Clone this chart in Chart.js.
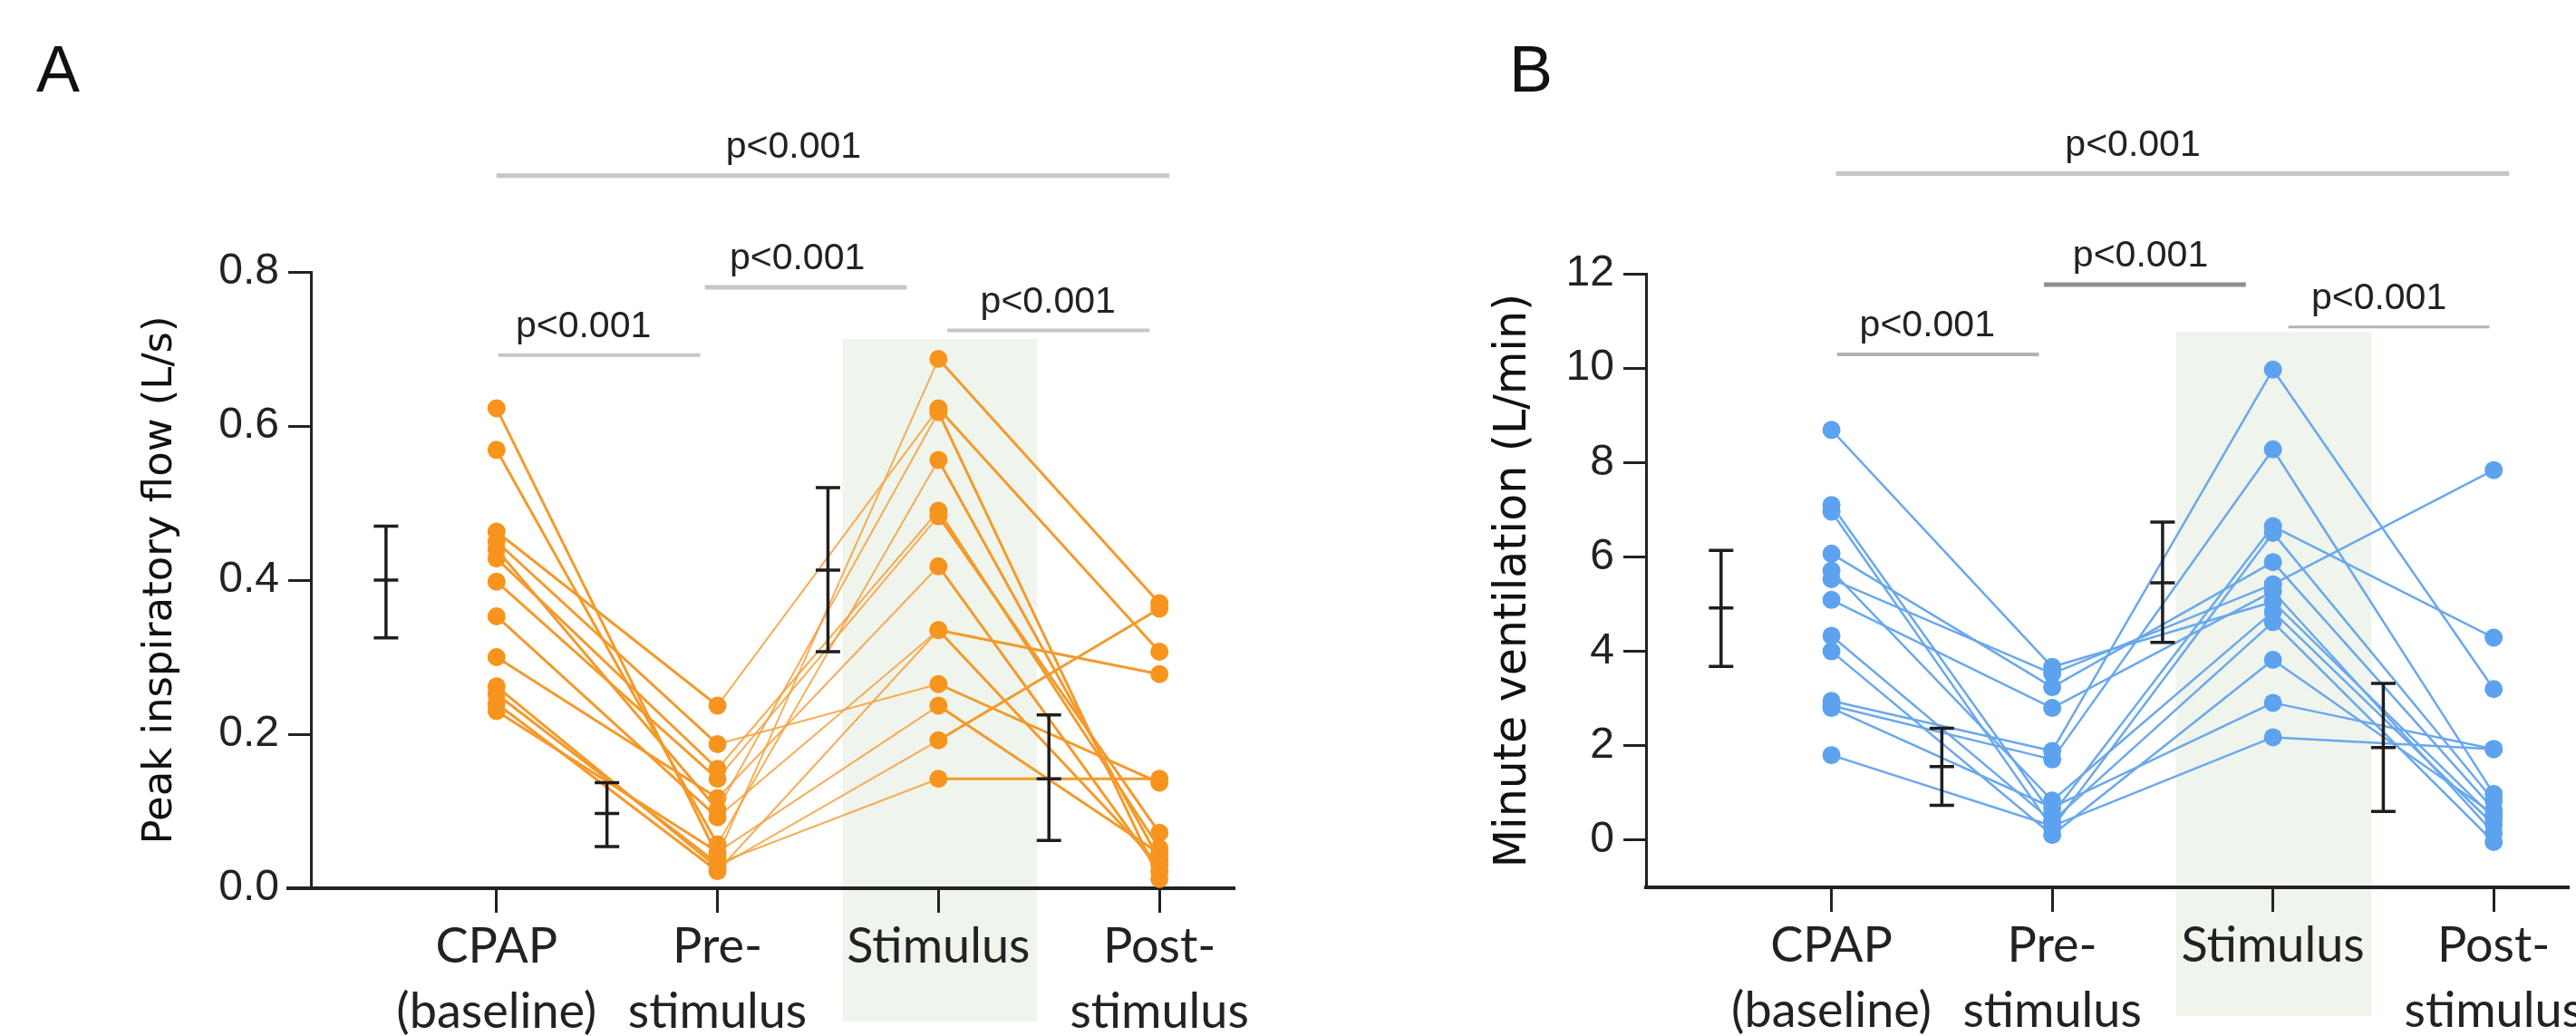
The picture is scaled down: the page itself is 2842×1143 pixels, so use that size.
<!DOCTYPE html>
<html>
<head>
<meta charset="utf-8">
<script src="https://cdn.jsdelivr.net/npm/chart.js@4.4.1/dist/chart.umd.min.js"></script>
<style>
html,body{margin:0;padding:0;background:#fff;overflow:hidden;width:2842px;height:1143px;position:relative;}
#wrapA{position:absolute;left:0;top:0;width:1421px;height:1143px;}
#wrapB{position:absolute;left:1421px;top:0;width:1520px;height:1143px;}
canvas{display:block;}
</style>
</head>
<body>
<div id="wrapA"><canvas id="chartA" width="1421" height="1143"></canvas></div>
<div id="wrapB"><canvas id="chartB" width="1520" height="1143"></canvas></div>
<script>
// ---------- shared ----------
const categories = [["CPAP", "(baseline)"], ["Pre-", "stimulus"], ["Stimulus"], ["Post-", "stimulus"]];
const conditionX = [0, 1, 2, 3];
const errorBarX = [-0.5, 0.5, 1.5, 2.5];
const pLabel = "p<0.001";

// ---------- Panel A: Peak inspiratory flow (L/s) ----------
const flowCPAP = [0.623, 0.569, 0.463, 0.450, 0.440, 0.428, 0.398, 0.353, 0.300, 0.262, 0.252, 0.240, 0.230];
const flowPre  = [0.042, 0.057, 0.237, 0.187, 0.102, 0.155, 0.142, 0.092, 0.117, 0.027, 0.032, 0.022, 0.047];
const flowStim = [0.687, 0.556, 0.623, 0.265, 0.618, 0.490, 0.483, 0.335, 0.418, 0.192, 0.142, 0.335, 0.237];
const flowPost = [0.370, 0.037, 0.307, 0.137, 0.012, 0.052, 0.072, 0.278, 0.022, 0.363, 0.142, 0.030, 0.045];
const flowMean = [0.400, 0.097, 0.413, 0.142];
const flowLow  = [0.325, 0.054, 0.307, 0.062];
const flowHigh = [0.470, 0.137, 0.520, 0.225];
const flowTicks = [0, 0.2, 0.4, 0.6, 0.8];

// ---------- Panel B: Minute ventilation (L/min) ----------
const ventCPAP = [8.69, 7.10, 6.96, 6.07, 5.71, 5.53, 5.09, 4.33, 4.00, 2.95, 2.85, 2.80, 1.80];
const ventPre  = [3.67, 0.54, 0.26, 3.24, 0.84, 3.53, 2.80, 0.40, 0.11, 1.89, 1.71, 0.69, 0.30];
const ventStim = [5.05, 6.65, 6.51, 5.89, 4.84, 5.42, 5.27, 4.62, 3.82, 9.97, 8.28, 2.91, 2.18];
const ventPost = [0.47, 4.29, 0.84, 0.65, 0.33, 7.84, 0.15, -0.04, 0.55, 3.20, 0.98, 1.93, 1.93];
const ventMean = [4.92, 1.56, 5.45, 1.96];
const ventLow  = [3.68, 0.74, 4.19, 0.61];
const ventHigh = [6.14, 2.37, 6.74, 3.32];
const ventTicks = [0, 2, 4, 6, 8, 10, 12];

Chart.defaults.font.family = 'Lato';
Chart.defaults.color = '#222';

const decoPlugin = {
  id: 'panelDeco',
  beforeDraw(chart, args, o) {
    const {ctx, scales: {x, y}} = chart;
    ctx.save();
    ctx.fillStyle = o.shadeColor;
    const x0 = x.getPixelForValue(o.shadeFrom);
    const x1 = x.getPixelForValue(o.shadeTo);
    const y0 = y.getPixelForValue(o.shadeTop);
    const y1 = chart.height - o.shadeBottomGap;
    ctx.fillRect(x0, y0, x1 - x0, y1 - y0);
    ctx.restore();
  },
  afterDatasetsDraw(chart, args, o) {
    const {ctx, scales: {x, y}} = chart;
    ctx.save();
    ctx.strokeStyle = '#1e1e1e';
    ctx.lineWidth = 3.5;
    const cap = 13.5;
    o.mean.forEach((m, i) => {
      const px = x.getPixelForValue(errorBarX[i]);
      const ph = y.getPixelForValue(o.high[i]);
      const pl = y.getPixelForValue(o.low[i]);
      const pm = y.getPixelForValue(m);
      ctx.beginPath();
      ctx.moveTo(px, ph); ctx.lineTo(px, pl);
      ctx.moveTo(px - cap, ph); ctx.lineTo(px + cap, ph);
      ctx.moveTo(px - cap, pl); ctx.lineTo(px + cap, pl);
      ctx.moveTo(px - cap, pm); ctx.lineTo(px + cap, pm);
      ctx.stroke();
    });
    ctx.restore();
  },
  afterDraw(chart, args, o) {
    const {ctx, chartArea, scales: {x, y}} = chart;
    ctx.save();
    if (o.axisExtend) {
      ctx.strokeStyle = '#222';
      ctx.lineWidth = 4;
      ctx.beginPath();
      ctx.moveTo(chartArea.left - o.axisExtend, chartArea.bottom);
      ctx.lineTo(chartArea.left, chartArea.bottom);
      ctx.stroke();
    }
    o.bars.forEach(b => {
      const py = y.getPixelForValue(b.level);
      ctx.strokeStyle = b.color;
      ctx.lineWidth = b.width;
      ctx.beginPath();
      ctx.moveTo(x.getPixelForValue(b.from), py);
      ctx.lineTo(x.getPixelForValue(b.to), py);
      ctx.stroke();
      ctx.fillStyle = '#222';
      ctx.font = '41px "Liberation Sans", Arial, sans-serif';
      ctx.textAlign = 'center';
      ctx.textBaseline = 'alphabetic';
      ctx.fillText(pLabel, x.getPixelForValue(b.textAt), py - 20);
    });
    ctx.fillStyle = '#111';
    ctx.font = '72px "Liberation Sans", Arial, sans-serif';
    ctx.textAlign = 'left';
    ctx.textBaseline = 'alphabetic';
    ctx.fillText(o.letter, o.letterX, o.letterY);
    ctx.restore();
  }
};

function makeChart(id, cfg) {
  const datasets = cfg.series[0].map((_, s) => ({
    data: conditionX.map((cx, c) => ({x: cx, y: cfg.series[c][s]})),
    showLine: true,
    borderColor: cfg.lineColor,
    borderWidth: cfg.lineWidth,
    backgroundColor: cfg.pointColor,
    pointBackgroundColor: cfg.pointColor,
    pointBorderColor: cfg.pointColor,
    pointBorderWidth: 0,
    pointRadius: 10,
    pointHoverRadius: 10,
    segment: {
      borderColor: ctx => ctx.p0DataIndex === 1 ? cfg.midColor : undefined,
      borderWidth: ctx => ctx.p0DataIndex === 1 ? cfg.midWidth : undefined
    }
  }));
  return new Chart(document.getElementById(id), {
    type: 'scatter',
    data: {datasets},
    options: {
      responsive: false,
      animation: false,
      events: [],
      layout: {padding: {top: cfg.top, right: cfg.right, left: 0, bottom: 0}},
      plugins: {
        legend: {display: false},
        tooltip: {enabled: false},
        panelDeco: cfg.deco
      },
      scales: {
        x: {
          type: 'linear', bounds: 'data', min: -0.84, max: 3.34,
          afterBuildTicks: ax => { ax.ticks = conditionX.map(v => ({value: v})); },
          afterFit: ax => { ax.height = cfg.xHeight; },
          ticks: {
            autoSkip: false, maxRotation: 0, minRotation: 0, padding: 2, color: '#222',
            font: {family: 'Lato', size: 54, lineHeight: 1.33},
            callback: (v, i) => categories[i]
          },
          grid: {display: true, drawOnChartArea: false, drawTicks: true, tickLength: 27, tickWidth: 3, tickColor: '#222'},
          border: {display: true, color: '#222', width: 4}
        },
        y: {
          type: 'linear', bounds: 'data', min: cfg.yMin, max: cfg.yMax,
          afterBuildTicks: ax => { ax.ticks = cfg.ticks.map(v => ({value: v})); },
          afterFit: ax => { ax.width = cfg.yWidth; },
          ticks: {
            padding: 10, color: '#222',
            font: {family: '"Liberation Sans", Arial, sans-serif', size: 48},
            callback: cfg.tickFmt
          },
          grid: {display: true, drawOnChartArea: false, drawTicks: true, tickLength: 25, tickWidth: 3, tickColor: '#222'},
          border: {display: true, color: '#222', width: 3},
          title: {
            display: true, text: cfg.yTitle, color: '#111',
            font: {family: '"DejaVu Sans", sans-serif', size: cfg.titleSize, lineHeight: 1.2},
            padding: {top: cfg.titlePad, bottom: 0}
          }
        }
      }
    },
    plugins: [decoPlugin]
  });
}

makeChart('chartA', {
  series: [flowCPAP, flowPre, flowStim, flowPost],
  lineColor: '#F39A2C', midColor: 'rgba(244,160,60,0.85)', lineWidth: 3, midWidth: 2,
  pointColor: '#F7941D',
  top: 300, right: 59, xHeight: 163, yWidth: 343,
  yMin: 0, yMax: 0.8, ticks: flowTicks, tickFmt: v => v.toFixed(1),
  yTitle: 'Peak inspiratory flow (L/s)', titleSize: 45, titlePad: 150,
  deco: {
    shadeColor: '#EFF5EC', shadeFrom: 1.566, shadeTo: 2.447, shadeTop: 0.713, shadeBottomGap: 16,
    mean: flowMean, low: flowLow, high: flowHigh,
    letter: 'A', letterX: 40, letterY: 101, axisExtend: 27,
    bars: [
      {from: 0.0, to: 3.045, level: 0.925, textAt: 1.344, color: '#C6C6C6', width: 5},
      {from: 0.943, to: 1.857, level: 0.780, textAt: 1.361, color: '#C6C6C6', width: 5},
      {from: 0.008, to: 0.922, level: 0.692, textAt: 0.393, color: '#C6C6C6', width: 4},
      {from: 2.040, to: 2.955, level: 0.724, textAt: 2.496, color: '#C6C6C6', width: 4}
    ]
  }
});

makeChart('chartB', {
  series: [ventCPAP, ventPre, ventStim, ventPost],
  lineColor: '#6AA8EC', midColor: '#6AA8EC', lineWidth: 2.5, midWidth: 2.5,
  pointColor: '#5DA2EE',
  top: 302, right: 107, xHeight: 164, yWidth: 395,
  yMin: -1, yMax: 12, ticks: ventTicks, tickFmt: v => String(v),
  yTitle: 'Minute ventilation (L/min)', titleSize: 49, titlePad: 220,
  deco: {
    shadeColor: '#EFF5EC', shadeFrom: 1.56, shadeTo: 2.447, shadeTop: 10.77, shadeBottomGap: 22,
    mean: ventMean, low: ventLow, high: ventHigh,
    letter: 'B', letterX: 244, letterY: 101, axisExtend: 0,
    bars: [
      {from: 0.02, to: 3.07, level: 14.12, textAt: 1.365, color: '#C6C6C6', width: 5},
      {from: 0.963, to: 1.877, level: 11.77, textAt: 1.40, color: '#8E8E8E', width: 5},
      {from: 0.025, to: 0.94, level: 10.29, textAt: 0.434, color: '#B3B3B3', width: 4},
      {from: 2.07, to: 2.98, level: 10.87, textAt: 2.48, color: '#B3B3B3', width: 3}
    ]
  }
});
</script>
</body>
</html>
